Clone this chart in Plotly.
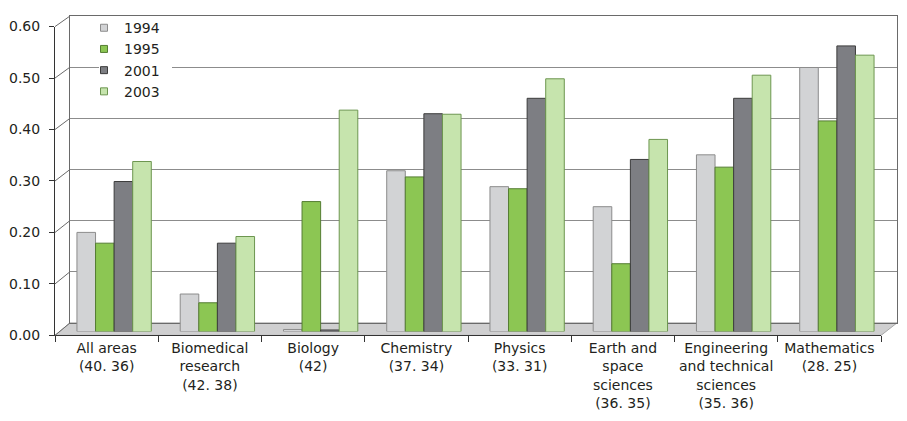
import plotly.graph_objects as go

categories = ["All areas<br>(40. 36)", "Biomedical<br>research<br>(42. 38)", "Biology<br>(42)",
              "Chemistry<br>(37. 34)", "Physics<br>(33. 31)", "Earth and<br>space<br>sciences<br>(36. 35)",
              "Engineering<br>and technical<br>sciences<br>(35. 36)", "Mathematics<br>(28. 25)"]
series_names = ["1994", "1995", "2001", "2003"]
v1994 = [0.193, 0.073, 0.004, 0.313, 0.282, 0.243, 0.344, 0.514]
v1995 = [0.172, 0.056, 0.253, 0.301, 0.278, 0.132, 0.320, 0.410]
v2001 = [0.292, 0.172, 0.003, 0.424, 0.454, 0.335, 0.454, 0.556]
v2003 = [0.331, 0.185, 0.431, 0.423, 0.492, 0.374, 0.499, 0.538]
y_ticks = [0.0, 0.1, 0.2, 0.3, 0.4, 0.5, 0.6]
y_ticklabels = ["0.00", "0.10", "0.20", "0.30", "0.40", "0.50", "0.60"]

W, H = 907, 421
OFF = 8  # page body margin in the screenshot
def px(x): return min(max((x - OFF) / W, 0), 1)
def py(y): return min(max(1 - (y - OFF) / H, 0), 1)

fills = ["#d2d3d5", "#8cc653", "#7d7e83", "#c6e4ad"]
lines = ["#8c8c8c", "#557d33", "#3c3c3c", "#6d9650"]
values = [v1994, v1995, v2001, v2003]
idx = list(range(len(categories)))
FAM = "DejaVu Sans, Open Sans, sans-serif"
TXT = "#231f20"

fig = go.Figure()
fig.add_trace(go.Scatter(x=[0], y=[0], xaxis="x", yaxis="y", mode="markers", marker=dict(opacity=0),
                         showlegend=False, hoverinfo="skip"))
fig.add_trace(go.Scatter(x=categories, y=[0]*len(categories), xaxis="x2", yaxis="y2", mode="markers",
                         marker=dict(opacity=0), showlegend=False, hoverinfo="skip"))
for name, vals, fc, lc in zip(series_names, values, fills, lines):
    fig.add_trace(go.Bar(x=idx, y=vals, name=name, marker=dict(color=fc, line=dict(color=lc, width=1)),
                         xaxis="x3", yaxis="y3", showlegend=False))
for name, fc, lc in zip(series_names, fills, lines):
    fig.add_trace(go.Scatter(x=[None], y=[None], name=name, mode="markers", xaxis="x3", yaxis="y3",
                             marker=dict(symbol="square", size=7, color=fc, line=dict(color=lc, width=1))))

# geometry (reference pixels)
front_l, front_r, front_0, front_top = 55, 881, 340, 19
back_l, back_r, back_0, back_top = 70, 897, 327, 8
bar_l, bar_r, bar_0, bar_top = 62.5, 888.5, 336, 15.6

shapes = []
shapes.append(dict(type="path", xref="paper", yref="paper", layer="below",
                   path=f"M {px(front_l)},{py(front_0)} L {px(front_r)},{py(front_0)} L {px(back_r)},{py(back_0)} L {px(back_l)},{py(back_0)} Z",
                   fillcolor="#cfcfd0", line=dict(color="#a8a8a8", width=1)))
for t in y_ticks:
    fy = front_0 - (front_0 - front_top) * t / 0.6
    by = back_0 - (back_0 - back_top) * t / 0.6
    shapes.append(dict(type="line", xref="paper", yref="paper", x0=px(front_l), y0=py(fy), x1=px(back_l), y1=py(by),
                       line=dict(color="#6a6a6a", width=1)))
# white legend box (covers the back-wall gridline behind the legend)
shapes.append(dict(type="rect", xref="paper", yref="paper", layer="above",
                   x0=px(99), x1=px(172), y0=py(95), y1=py(14), fillcolor="white", line=dict(width=0)))

fig.update_layout(
    width=W, height=H, margin=dict(l=0, r=0, t=0, b=0),
    paper_bgcolor="white", plot_bgcolor="rgba(0,0,0,0)",
    barmode="group", bargap=0.28, bargroupgap=0,
    font=dict(family=FAM, color=TXT, size=14), showlegend=True,
    legend=dict(x=px(84), y=1.0 + 4 / H, xanchor="left", yanchor="top", bgcolor="rgba(0,0,0,0)",
                font=dict(size=14, family=FAM, color=TXT), itemwidth=30, tracegroupgap=0),
    shapes=shapes,
    xaxis=dict(domain=[px(back_l), px(back_r)], range=[0, 1], anchor="y",
               showticklabels=False, showgrid=False, zeroline=False, showline=True, mirror=True,
               linecolor="#6a6a6a", linewidth=1, ticks=""),
    yaxis=dict(domain=[py(back_0), py(back_top)], range=[0, 0.6], anchor="x",
               tickvals=y_ticks, showticklabels=False, showgrid=True, gridcolor="#8c8c8c", gridwidth=1,
               zeroline=False, showline=True, mirror=True, linecolor="#6a6a6a", linewidth=1, ticks=""),
    xaxis2=dict(domain=[px(front_l), px(front_r)], anchor="y2", type="category",
                range=[-0.5, len(categories) - 0.5], tickson="boundaries", ticks="outside", ticklen=6,
                tickcolor="#333333", showline=True, linecolor="#333333", linewidth=1, showgrid=False,
                tickfont=dict(size=14, family=FAM, color=TXT), tickangle=0),
    yaxis2=dict(domain=[py(front_0), py(front_top)], range=[0, 0.6], anchor="x2",
                tickvals=y_ticks, ticktext=y_ticklabels, ticks="outside", ticklen=5, tickcolor="#333333",
                showline=True, linecolor="#333333", linewidth=1, showgrid=False, zeroline=False,
                ticklabelstandoff=6, tickfont=dict(size=14, family=FAM, color=TXT)),
    xaxis3=dict(domain=[px(bar_l), px(bar_r)], anchor="y3", range=[-0.5, len(categories) - 0.5],
                showticklabels=False, showgrid=False, zeroline=False, showline=False, ticks=""),
    yaxis3=dict(domain=[py(bar_0), py(bar_top)], anchor="x3", range=[0, 0.6], showticklabels=False,
                showgrid=False, zeroline=False, showline=False, ticks=""),
)
fig.write_html("out.html")
